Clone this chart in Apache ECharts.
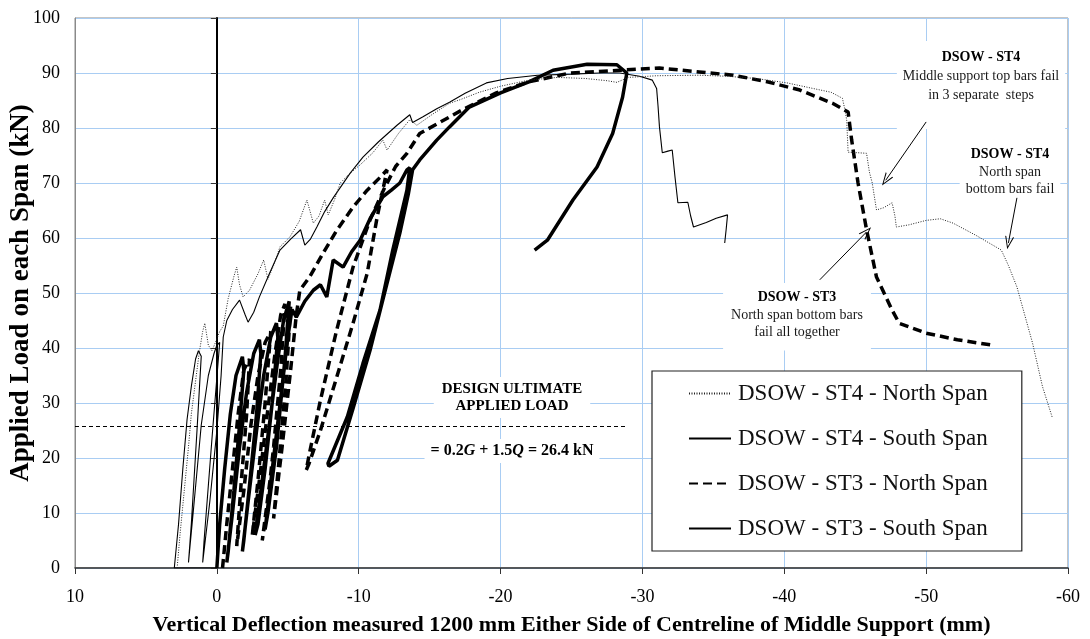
<!DOCTYPE html>
<html>
<head>
<meta charset="utf-8">
<title>DSOW load-deflection</title>
<script src="https://cdn.jsdelivr.net/npm/echarts@6/dist/echarts.min.js"></script>
<style>
  html, body { margin: 0; padding: 0; background: #fff; }
  #chart { width: 1090px; height: 639px; }
</style>
</head>
<body>
<div id="chart"></div>
<script>
// [deflection (mm), load (kN)]
const st4North = [
  [2.8,0],[2.6,6],[2.3,14],[2.0,22],[1.8,28],[1.5,34],[1.25,39],[1.0,43],[0.85,44.5],[0.6,40.5],
  [0.35,39.5],[0.1,41],[-0.2,43],[-0.45,44],[-0.8,49],[-1.2,53],[-1.4,54.7],[-1.6,51.5],[-1.85,49.3],
  [-2.3,50.5],[-2.9,53.5],[-3.3,56],[-3.6,52.5],[-4.0,55],[-4.45,58.4],[-5.15,60.2],[-5.8,63],
  [-6.35,66.9],[-6.8,62.7],[-7.2,64],[-7.6,66.9],[-7.85,64.2],[-8.3,67],[-8.7,70],[-9.4,71.8],
  [-10.1,73.3],[-11,75.5],[-11.7,77.8],[-12,76],[-12.8,79],[-13.6,81.5],[-14.1,80.5],[-15.2,82.5],
  [-16.4,84.5],[-17.1,85.1],[-18.5,86.5],[-20,87.6],[-22,88.7],[-24,89.2],[-26,89],[-27.5,88.6],
  [-28.2,88.3],[-29,89.2],[-31,89.5],[-34,89.6],[-36,89.4],[-38,89],[-40.2,88.2],[-42,87.2],
  [-43.3,86.5],[-44.1,85.4],[-44.3,83],[-44.4,81.4],[-44.5,75.6],[-45.2,75.5],[-45.8,75.4],
  [-46,72],[-46.2,70],[-46.5,65.1],[-47,65.5],[-47.6,66.4],[-47.8,64],[-47.9,62],[-48.8,62.4],
  [-50,63.2],[-51,63.5],[-51.9,62.7],[-53.5,60.5],[-55.3,57.8],[-55.8,55],[-56.4,51.1],
  [-57.5,40.9],[-58.2,33],[-58.9,27.3]
]
const st4South = [
  [0,0],[3.0,0],[2.7,8],[2.4,18],[2.1,27],[1.8,33],[1.5,38],[1.3,39.5],[1.1,38.5],[1.4,25],
  [1.8,8],[2.0,1],[1.6,12],[1.1,26],[0.6,35],[0.2,39],[0,40.5],[-0.2,41],[0.3,25],[0.9,5],[1.0,1],
  [0.5,12],[0,25],[-0.3,35],[-0.45,42],[-0.7,45],[-1.1,47],[-1.6,48.7],[-2.0,46],[-2.2,44.7],
  [-2.6,46.5],[-3.0,49.3],[-3.7,53.5],[-4.45,57.8],[-5.2,59.8],[-5.9,61.5],[-6.2,58.7],[-6.6,59.8],
  [-7.05,62],[-7.6,64.8],[-8.2,67.3],[-9.4,71.8],[-10.3,74.7],[-11.4,77.5],[-12.7,80.5],
  [-13.6,82.4],[-13.8,81],[-14.5,82],[-15.5,83.5],[-16.4,84.7],[-17.5,86.3],[-19,88.2],[-20.5,89],
  [-22.6,89.6],[-25,89.8],[-27,90],[-28.4,90],[-29.8,89.4],[-30.7,88.7],[-31,87.2],[-31.1,84],
  [-31.2,80.2],[-31.4,75.5],[-31.8,75.8],[-32.1,76],[-32.3,71],[-32.5,66.4],[-33.2,66.5],
  [-33.4,64],[-33.6,62],[-34.5,62.8],[-35.2,63.6],[-36,64.2],[-35.9,61.5],[-35.8,59.1]
]
const st3North = [
  [-0.4,0],[-0.7,8],[-1.1,18],[-1.5,28],[-1.9,36],[-2.3,38],[-2.1,28],[-1.7,15],[-1.4,4],
  [-1.9,14],[-2.4,26],[-2.9,35],[-3.4,41],[-3.8,43],[-3.4,30],[-2.9,16],[-2.5,6],[-3.0,16],
  [-3.6,29],[-4.1,39],[-4.5,46],[-4.8,48],[-4.5,36],[-4.0,22],[-3.5,10],[-3.2,5],[-3.8,17],
  [-4.4,30],[-5.0,42],[-5.2,47.5],[-4.9,35],[-4.4,20],[-4.0,9],[-4.6,22],[-5.2,36],[-5.6,46],
  [-5.85,50.5],[-6.56,53],[-7.5,57.3],[-8.45,61.4],[-9.6,65.6],
  [-10.6,68.7],[-11.5,71],[-12,72.4],[-11.3,63.8],[-10.6,53.6],[-9.6,44.5],[-8.45,34.7],
  [-7.3,25],[-6.5,19],[-6.3,17.8],[-6.5,20.5],[-7.3,30.5],[-8.45,43.3],[-9.6,54.7],[-10.8,63.3],
  [-11.8,69],[-12.6,73],[-13.4,75.4],[-14.3,79],[-15.7,81],[-17.3,83.3],[-19.7,86.4],[-22,88.4],
  [-24.9,90],[-28.4,90.5],[-31.2,90.9],[-34,90.2],[-36.4,89.6],[-38.8,88.4],[-41.1,86.9],
  [-43.4,84.5],[-44.5,82.9],[-44.75,77.8],[-45.2,70],[-45.8,61.5],[-46.5,52.9],[-47.6,46.9],
  [-48.1,44.5],[-50,42.7],[-52.2,41.5],[-54.7,40.5]
]
const st3South = [
  [0,0],[-0.2,8],[-0.55,18],[-0.95,28],[-1.35,35],[-1.8,38.4],[-1.9,36],[-1.6,26],[-1.2,14],
  [-0.8,3],[-0.7,1],[-1.1,10],[-1.6,22],[-2.1,32],[-2.6,39],[-3.0,41.5],[-3.1,39],[-2.8,28],
  [-2.3,15],[-1.9,5],[-1.8,3],[-2.2,12],[-2.8,25],[-3.3,35],[-3.8,42],[-4.2,44.5],[-4.3,42],
  [-3.9,30],[-3.4,18],[-2.9,8],[-2.7,6],[-3.2,16],[-3.8,28],[-4.3,38],[-4.7,45],[-5.1,48.5],
  [-4.8,38],[-4.2,22],[-3.6,10],[-3.4,7],[-4.0,20],[-4.6,33],[-5.0,42],[-5.3,47],
  [-5.6,45.6],[-6.2,48.5],[-6.8,50.5],[-7.3,51.5],[-7.75,49.3],[-8.2,56],[-8.9,54.7],
  [-9.5,57.5],[-10.1,59.6],[-10.8,63.5],[-11.7,67.5],[-12.3,68.7],[-12.9,70],[-13.4,72.4],
  [-13.6,72.8],[-13.4,68.7],[-12.4,57.8],[-11.5,46.9],[-10.3,37.2],[-9.2,27.5],[-7.83,19],
  [-7.9,18.5],[-8.5,19.6],[-9.6,29],[-10.8,39.6],[-12,51.8],[-12.9,60.9],[-13.5,68],[-13.8,72.4],
  [-14.3,74.2],[-15.5,77.8],[-16.4,80.2],[-17.8,83.8],[-20,86.4],[-22,88.4],[-23.7,90.5],
  [-26.1,91.6],[-28.2,91.5],[-28.9,90],[-28.6,85.6],[-27.9,79],[-26.8,72.9],[-25.1,66.9],
  [-23.3,59.6],[-22.4,57.8]
]

const seriesNames = ['DSOW - ST4 - North Span', 'DSOW - ST4 - South Span', 'DSOW - ST3 - North Span', 'DSOW - ST3 - South Span']
const xTicks = { min: -60, max: 10, step: 10 }
const yTicks = { min: 0, max: 100, step: 10 }
const designLoad = 25.7
const designLoadEnd = -28.8
// annotation arrows: [from, to] in data units
const arrows = [
  [[-50.0, 81.1], [-47.15, 70.5]],
  [[-56.4, 67.3], [-55.8, 59.1]],
  [[-42.5, 52.4], [-45.8, 61.1]]
]

const serif = '"Liberation Serif", "Times New Roman", serif'
const gridBlue = '#a9cdf3'
const arrowHead = 'path://M5,0 L10,12 L8.8,12 L5,2.6 L1.2,12 L0,12 Z'

let chart = null

// centred text block with a white box that hides the grid behind it
function note(cx, top, text, opts) {
  return {
    type: 'text',
    x: cx,
    y: top,
    z: 1,
    style: Object.assign({
      text: text,
      fontFamily: serif,
      fontSize: 14,
      fill: '#1a1a1a',
      align: 'center',
      verticalAlign: 'top',
      backgroundColor: '#fff',
      rich: {
        b: { fontWeight: 'bold', fontFamily: serif, fontSize: opts.fontSize || 14, fill: '#000', lineHeight: opts.lineHeight },
        i: { fontWeight: 'bold', fontStyle: 'italic', fontFamily: serif, fontSize: opts.fontSize || 14, fill: '#000', lineHeight: opts.lineHeight }
      }
    }, opts)
  }
}

function initChart() {
  chart = echarts.init(document.getElementById('chart'), null, { renderer: 'canvas' })
  setOptions()
}

function setOptions() {
  chart.setOption({
    animation: false,
    backgroundColor: '#fff',
    grid: {
      left: 75, right: 22, top: 18, bottom: 71,
      outerBoundsMode: 'none',
      containLabel: false,
      show: true, borderColor: '#8a8a8a', borderWidth: 1
    },
    legend: {
      orient: 'vertical',
      left: 652,
      top: 371,
      padding: [11, 34, 11, 36],
      itemGap: 22,
      itemWidth: 42,
      itemHeight: 12,
      backgroundColor: '#fff',
      borderColor: '#222',
      borderWidth: 1.2,
      borderRadius: 0,
      itemStyle: { opacity: 0 },
      textStyle: { fontFamily: serif, fontSize: 23, color: '#111', padding: [0, 0, 0, 2] },
      data: seriesNames
    },
    xAxis: {
      type: 'value',
      inverse: true,
      min: xTicks.min,
      max: xTicks.max,
      interval: xTicks.step,
      name: 'Vertical Deflection measured 1200 mm Either Side of Centreline of Middle Support (mm)',
      nameLocation: 'middle',
      nameGap: 46,
      nameTextStyle: { fontFamily: serif, fontSize: 22, fontWeight: 'bold', color: '#000' },
      axisLine: { onZero: false, lineStyle: { color: '#333', width: 1.5 } },
      axisTick: { show: true, length: 6, lineStyle: { color: '#333' } },
      axisLabel: { fontFamily: serif, fontSize: 18, color: '#000', margin: 20 },
      splitLine: { show: true, lineStyle: { color: gridBlue, width: 1 } }
    },
    yAxis: [{
      type: 'value',
      min: yTicks.min,
      max: yTicks.max,
      interval: yTicks.step,
      name: 'Applied Load on each Span (kN)',
      nameLocation: 'middle',
      nameGap: 40,
      nameMoveOverlap: false,
      nameTextStyle: { fontFamily: serif, fontSize: 27, fontWeight: 'bold', color: '#000' },
      axisLine: { show: true, onZero: false, lineStyle: { color: '#8a8a8a' } },
      axisTick: { show: false },
      axisLabel: { fontFamily: serif, fontSize: 18, color: '#000', margin: 15 },
      splitLine: { show: true, lineStyle: { color: gridBlue, width: 1.2 } }
    }, {
      // the black zero-deflection line with inward ticks
      type: 'value',
      min: yTicks.min,
      max: yTicks.max,
      interval: yTicks.step,
      axisLine: { show: true, onZero: true, lineStyle: { color: '#000', width: 2 } },
      axisTick: { show: true, inside: true, length: 6, lineStyle: { color: '#333' } },
      axisLabel: { show: false },
      splitLine: { show: false }
    }],
    graphic: [
      note(512, 377, '{b|DESIGN ULTIMATE}\n{b|APPLIED LOAD}', { fontSize: 15, lineHeight: 17, padding: [4, 8, 3, 8] }),
      note(512, 439, '{b|= 0.2}{i|G}{b| + 1.5}{i|Q}{b| = 26.4 kN}', { fontSize: 16, lineHeight: 20, padding: [2, 6, 2, 6] }),
      note(981, 41, '{b|DSOW - ST4}\nMiddle support top bars fail\nin 3 separate  steps', { lineHeight: 19, padding: [7, 6, 24, 6] }),
      note(1010, 140, '{b|DSOW - ST4}\nNorth span\nbottom bars fail', { lineHeight: 17.5, padding: [6, 6, 6, 6] }),
      note(797, 283, '{b|DSOW - ST3}\nNorth span bottom bars\nfail all together', { lineHeight: 17.5, padding: [6, 8, 9, 8] })
    ],
    series: [
      {
        name: seriesNames[0],
        type: 'line',
        data: st4North,
        showSymbol: false,
        symbol: 'none',
        z: 5,
        lineStyle: { color: '#222', width: 1, type: [1, 1.5] },
        itemStyle: { color: '#222' },
        markLine: {
          silent: true,
          animation: false,
          label: { show: false },
          lineStyle: { color: '#000', width: 1, type: 'solid' },
          data: arrows.map(([a, b]) => [
            { coord: a, symbol: 'none' },
            { coord: b, symbol: arrowHead, symbolSize: [9, 13] }
          ]).concat([[
            { coord: [xTicks.max, designLoad], symbol: 'none', lineStyle: { type: [4, 3], width: 1 } },
            { coord: [designLoadEnd, designLoad], symbol: 'none' }
          ]])
        }
      },
      {
        name: seriesNames[1],
        type: 'line',
        data: st4South,
        showSymbol: false,
        symbol: 'none',
        z: 4,
        lineStyle: { color: '#000', width: 1.1 },
        itemStyle: { color: '#000' }
      },
      {
        name: seriesNames[2],
        type: 'line',
        data: st3North,
        showSymbol: false,
        symbol: 'none',
        z: 3,
        lineStyle: { color: '#000', width: 3.5, type: [9, 5] },
        itemStyle: { color: '#000' }
      },
      {
        name: seriesNames[3],
        type: 'line',
        data: st3South,
        showSymbol: false,
        symbol: 'none',
        z: 3,
        lineStyle: { color: '#000', width: 3.5 },
        itemStyle: { color: '#000' }
      }
    ]
  })
}

initChart()
</script>
</body>
</html>
